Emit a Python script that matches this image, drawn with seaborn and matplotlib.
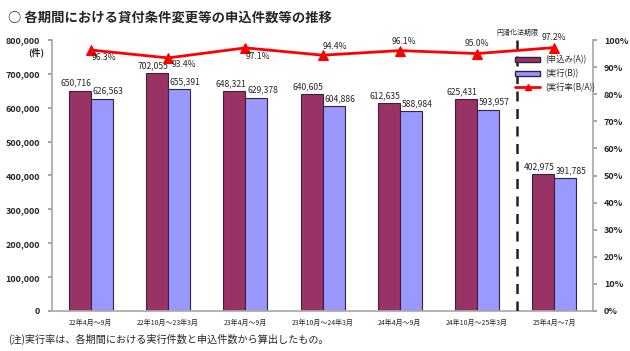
import matplotlib
matplotlib.use("Agg")
import matplotlib.pyplot as plt
import numpy as np
import pandas as pd
import seaborn as sns
from matplotlib.patches import Patch
from matplotlib.lines import Line2D

periods = ["22年4月～9月", "22年10月～23年3月", "23年4月～9月", "23年10月～24年3月",
           "24年4月～9月", "24年10月～25年3月", "25年4月～7月"]
applied = [650716, 702055, 648321, 640605, 612635, 625431, 402975]
executed = [626563, 655391, 629378, 604886, 588984, 593957, 391785]
rate = [96.3, 93.4, 97.1, 94.4, 96.1, 95.0, 97.2]
series_names = ["(申込み(A))", "(実行(B))"]
rate_name = "(実行率(B/A))"

sns.set_theme(style="white")
plt.rcParams["font.family"] = ["Noto Sans CJK JP", "DejaVu Sans"]

df = pd.DataFrame({
    "period": periods * 2,
    "count": applied + executed,
    "series": [series_names[0]] * len(periods) + [series_names[1]] * len(periods),
})

fig = plt.figure(figsize=(6.3, 3.51), dpi=100)
ax = fig.add_axes([0.083, 0.114, 0.858, 0.772])

sns.barplot(data=df, x="period", y="count", hue="series", order=periods,
            hue_order=series_names, palette=["#993366", "#9999FF"], saturation=1,
            width=0.57, edgecolor="#3a2040", linewidth=0.8, ax=ax, legend=False)
ax.set_xlim(-0.5, len(periods) - 0.5)
ax.set_ylim(0, 800000)
ax.set_yticks(np.arange(0, 800001, 100000))
ax.set_yticklabels([f"{v:,}" for v in range(0, 800001, 100000)], fontsize=6.5, fontweight="bold")
ax.tick_params(axis="x", labelsize=5, length=0, pad=6)
ax.tick_params(axis="y", length=3, left=True, pad=6, color="#999999")
ax.set_xlabel("")
ax.set_ylabel("")
for sp in ["top", "right"]:
    ax.spines[sp].set_visible(False)
ax.spines["left"].set_color("#aaaaaa")
ax.spines["bottom"].set_color("#aaaaaa")
fig.text(0.058, 0.852, "(件)", fontsize=6.5, fontweight="bold", ha="center", va="center")

# bar value labels
for container, dx in zip(ax.containers, [-0.05, 0.08]):
    for bar in container:
        h = bar.get_height()
        ax.text(bar.get_x() + bar.get_width() / 2 + dx, h + 9000, f"{int(h):,}",
                ha="center", va="bottom", fontsize=6.2)

# right axis: rate
ax2 = ax.twinx()
x = np.arange(len(periods))
sns.lineplot(x=x, y=rate, ax=ax2, color="#FF0000", linewidth=2, marker="^",
             markersize=7, markeredgecolor="#FF0000", legend=False)
ax2.set_ylim(0, 100)
ax2.set_yticks(np.arange(0, 101, 10))
ax2.set_yticklabels([f"{v}%" for v in range(0, 101, 10)], fontsize=6.5, fontweight="bold")
ax2.tick_params(axis="y", length=3, right=True, pad=5, color="#999999")
ax2.set_ylabel("")
for sp in ["top", "left", "bottom"]:
    ax2.spines[sp].set_visible(False)
ax2.spines["right"].set_color("#aaaaaa")

offsets = [(0.17, -2.6), (0.2, -2.6), (0.16, -3.3), (0.16, 3.3),
           (0.05, 3.3), (0.0, 3.7), (0.0, 3.7)]
for xi, r, (dx, dy) in zip(x, rate, offsets):
    ax2.text(xi + dx, r + dy, f"{r:.1f}%", ha="center", va="center", fontsize=6.2)

# deadline divider
ax2.axvline(5.52, color="#222222", linestyle=(0, (4, 3)), linewidth=1.8)
ax2.text(5.52, 101.0, "円滑化法期限", ha="center", va="bottom", fontsize=5)

# legend
handles = [Patch(facecolor="#993366", edgecolor="#3a2040"),
           Patch(facecolor="#9999FF", edgecolor="#3a2040"),
           Line2D([0], [0], color="#FF0000", lw=2, marker="^", markersize=5)]
ax2.legend(handles, series_names + [rate_name], loc="upper right",
           bbox_to_anchor=(1.015, 0.965), frameon=False, fontsize=6,
           handlelength=3, handleheight=0.6, labelspacing=0.55, handletextpad=0.6,
           borderpad=0.2)

fig.text(0.013, 0.95, "○ 各期間における貸付条件変更等の申込件数等の推移",
         fontsize=9.6, fontweight="bold", va="center")
fig.text(0.013, 0.033, "(注)実行率は、各期間における実行件数と申込件数から算出したもの。",
         fontsize=7.3, va="center")

fig.savefig("out.png", dpi=100)
